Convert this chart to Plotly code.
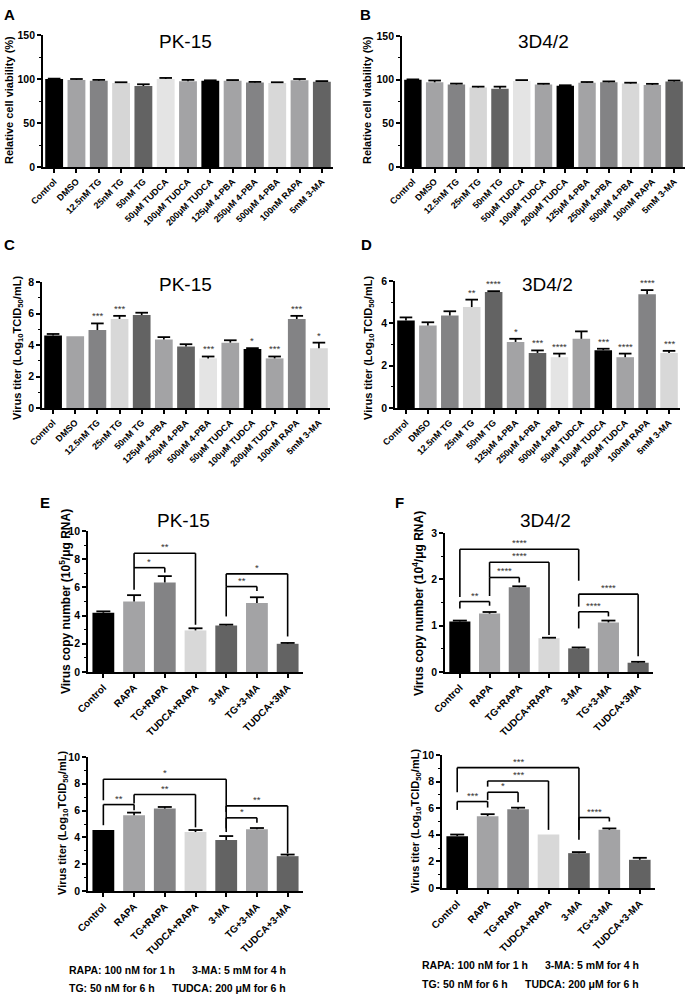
import plotly.graph_objects as go

W, H = 691, 996
FONT = "Liberation Sans, Arial, sans-serif"

# ---------------- data ----------------
cats_AB = ["Control", "DMSO", "12.5nM TG", "25nM TG", "50nM TG", "50μM TUDCA", "100μM TUDCA",
           "200μM TUDCA", "125μM 4-PBA", "250μM 4-PBA", "500μM 4-PBA", "100nM RAPA", "5mM 3-MA"]
viab_pk15 = [100, 99, 98, 95.5, 92, 100, 97.5, 98, 98, 96, 95.5, 98.5, 97]
viab_pk15_err = [0.4, 1, 1, 0.8, 2, 1.2, 1.5, 0.5, 0.8, 0.7, 0.8, 1.5, 0.6]
viab_3d42 = [100, 97, 94.5, 91, 89.5, 98.5, 94.5, 93, 96.5, 97, 95.5, 94, 98]
viab_3d42_err = [0.3, 2, 1, 1, 2.5, 1, 0.8, 0.6, 0.8, 1, 1, 1.2, 1]
colors_AB = ["#000000", "#a3a3a5", "#838385", "#d6d6d6", "#636363", "#e4e4e4", "#a3a3a5",
             "#000000", "#a3a3a5", "#838385", "#d8d8d8", "#a3a3a5", "#636363"]

cats_CD = ["Control", "DMSO", "12.5nM TG", "25nM TG", "50nM TG", "125μM 4-PBA", "250μM 4-PBA",
           "500μM 4-PBA", "50μM TUDCA", "100μM TUDCA", "200μM TUDCA", "100nM RAPA", "5mM 3-MA"]
titer_pk15 = [4.6, 4.55, 4.95, 5.65, 5.9, 4.35, 3.9, 3.15, 4.15, 3.75, 3.15, 5.65, 3.8]
titer_pk15_err = [0.1, None, 0.42, 0.2, 0.15, 0.15, 0.15, 0.12, 0.15, 0.05, 0.12, 0.2, 0.35]
sig_C = ["", "", "***", "***", "", "", "", "***", "", "*", "***", "***", "*"]
titer_3d42 = [4.13, 3.9, 4.37, 4.77, 5.48, 3.12, 2.6, 2.4, 3.27, 2.73, 2.4, 5.37, 2.6]
titer_3d42_err = [0.15, 0.15, 0.2, 0.35, 0.04, 0.15, 0.12, 0.17, 0.35, 0.07, 0.17, 0.2, 0.1]
sig_D = ["", "", "", "**", "****", "*", "***", "****", "", "***", "****", "****", "***"]
colors_CD = ["#000000", "#a3a3a5", "#838385", "#d8d8d8", "#636363", "#a3a3a5", "#636363",
             "#e4e4e4", "#a3a3a5", "#000000", "#a3a3a5", "#838385", "#d8d8d8"]

cats_EF_top = ["Control", "RAPA", "TG+RAPA", "TUDCA+RAPA", "3-MA", "TG+3-MA", "TUDCA+3MA"]
cats_EF_bot = ["Control", "RAPA", "TG+RAPA", "TUDCA+RAPA", "3-MA", "TG+3-MA", "TUDCA+3-MA"]
colors_EF = ["#000000", "#a3a3a5", "#838385", "#d8d8d8", "#636363", "#a3a3a5", "#636363"]

copy_pk15 = [4.2, 5.0, 6.35, 2.95, 3.3, 4.9, 2.0]
copy_pk15_err = [0.1, 0.45, 0.45, 0.15, 0.06, 0.4, 0.06]
copy_3d42 = [1.09, 1.26, 1.83, 0.73, 0.51, 1.07, 0.2]
copy_3d42_err = [0.02, 0.035, 0.02, 0.01, 0.02, 0.04, 0.02]
titerE_pk15 = [4.55, 5.65, 6.15, 4.4, 3.8, 4.6, 2.6]
titerE_pk15_err = [None, 0.2, 0.12, 0.15, 0.3, 0.1, 0.12]
titerF_3d42 = [3.9, 5.4, 5.92, 4.02, 2.62, 4.38, 2.12]
titerF_3d42_err = [0.12, 0.15, 0.12, None, 0.08, 0.1, 0.15]

# significance brackets: (group i, group j, bracket height, leg-i bottom, leg-j bottom, label)
brackets_E_top = [(1, 3, 8.42, 5.83, 3.35, "**"), (1, 2, 7.4, 7.4, 7.05, "*"),
                  (4, 6, 6.96, 6.06, 2.52, "*"), (4, 5, 6.06, 3.94, 5.75, "**")]
brackets_F_top = [(0, 4, 2.65, 1.62, 1.97, "****"), (1, 3, 2.37, 2.04, 0.80, "****"),
                  (1, 2, 2.04, 1.64, 1.93, "****"), (0, 1, 1.52, 1.37, 1.43, "**"),
                  (4, 6, 1.68, 1.41, 0.34, "****"), (4, 5, 1.30, 0.94, 1.2, "****")]
brackets_E_bot = [(0, 4, 8.34, 6.77, 4.67, "*"), (1, 3, 7.2, 6.53, 4.75, "**"),
                  (0, 1, 6.45, 4.91, 6.03, "**"), (4, 6, 6.35, 5.9, 2.8, "**"),
                  (4, 5, 5.46, 4.4, 5.1, "*")]
brackets_F_bot = [(0, 4, 9.05, 7.2, 3.62, "***"), (1, 3, 8.05, 7.62, 4.37, "***"),
                  (1, 2, 7.2, 6.62, 6.45, "*"), (0, 1, 6.5, 5.87, 6.05, "***"),
                  (4, 5, 5.3, 4.37, 5.0, "****")]

# ---------------- layout helpers ----------------
def dx(px):
    return px / W

def dy(py):
    return 1 - py / H

panels = [
    dict(cats=cats_AB, v=viab_pk15, e=viab_pk15_err, c=colors_AB, x=(43, 333), y=(35, 167),
         yr=150, dt=50, mn=25, tf=9, bg=0.2, cw=9),
    dict(cats=cats_AB, v=viab_3d42, e=viab_3d42_err, c=colors_AB, x=(402, 685), y=(36, 167),
         yr=150, dt=50, mn=25, tf=9, bg=0.2, cw=9),
    dict(cats=cats_CD, v=titer_pk15, e=titer_pk15_err, c=colors_CD, x=(42, 330), y=(282, 408),
         yr=8, dt=2, mn=1, tf=9, bg=0.2, cw=9),
    dict(cats=cats_CD, v=titer_3d42, e=titer_3d42_err, c=colors_CD, x=(395, 680), y=(281, 408),
         yr=6, dt=2, mn=1, tf=9, bg=0.2, cw=9),
    dict(cats=cats_EF_top, v=copy_pk15, e=copy_pk15_err, c=colors_EF, x=(88, 303), y=(531, 672),
         yr=10, dt=2, mn=1, tf=10, bg=0.29, cw=10),
    dict(cats=cats_EF_top, v=copy_3d42, e=copy_3d42_err, c=colors_EF, x=(445, 653), y=(533, 672),
         yr=3, dt=1, mn=0.5, tf=10, bg=0.29, cw=10),
    dict(cats=cats_EF_bot, v=titerE_pk15, e=titerE_pk15_err, c=colors_EF, x=(88, 303), y=(757, 891),
         yr=10, dt=2, mn=1, tf=10, bg=0.29, cw=10),
    dict(cats=cats_EF_bot, v=titerF_3d42, e=titerF_3d42_err, c=colors_EF, x=(442, 655), y=(755, 888),
         yr=10, dt=2, mn=1, tf=10, bg=0.29, cw=10),
]

fig = go.Figure()
layout = dict(width=W, height=H, margin=dict(l=0, r=0, t=0, b=0, autoexpand=False),
              paper_bgcolor="white", plot_bgcolor="white", showlegend=False,
              font=dict(family=FONT, color="black"), template="none")
shapes = []
annotations = []

for k, p in enumerate(panels, start=1):
    xa = "x" if k == 1 else f"x{k}"
    ya = "y" if k == 1 else f"y{k}"
    n = len(p["cats"])
    fig.add_trace(go.Bar(
        x=p["cats"], y=p["v"], marker=dict(color=p["c"], line=dict(width=0)),
        xaxis=xa, yaxis=ya, hoverinfo="skip", width=1 - p["bg"]))
    # upper-only error bars (stem + cap), Prism style
    sx, sy, hx, hy = [], [], [], []
    for cat, v, e in zip(p["cats"], p["v"], p["e"]):
        if e:
            sx += [cat, cat, None]
            sy += [v, v + e, None]
            hx.append(cat)
            hy.append(v + e)
    fig.add_trace(go.Scatter(x=sx, y=sy, mode="lines", line=dict(color="black", width=1.7),
                             xaxis=xa, yaxis=ya, hoverinfo="skip", connectgaps=False))
    fig.add_trace(go.Scatter(x=hx, y=hy, mode="markers", xaxis=xa, yaxis=ya, hoverinfo="skip",
                             marker=dict(symbol="line-ew", size=p["cw"],
                                         line=dict(color="black", width=1.8))))
    layout["xaxis" if k == 1 else f"xaxis{k}"] = dict(
        domain=[dx(p["x"][0]), dx(p["x"][1])], anchor=ya, type="category",
        range=[-0.5, n - 0.5], showline=True, linecolor="black", linewidth=1.8,
        ticks="outside", ticklen=4, tickwidth=1.5, tickcolor="black", tickangle=-45,
        tickfont=dict(family=FONT, size=p["tf"], color="black", weight="bold"),
        showgrid=False, zeroline=False, fixedrange=True, automargin=False)
    layout["yaxis" if k == 1 else f"yaxis{k}"] = dict(
        domain=[dy(p["y"][1]), dy(p["y"][0])], anchor=xa, range=[0, p["yr"]],
        showline=True, linecolor="black", linewidth=1.8, ticks="outside", ticklen=4,
        tickwidth=1.5, tickcolor="black", dtick=p["dt"], tick0=0,
        minor=dict(ticks="outside", ticklen=2.5, tickwidth=1.2, tickcolor="black", dtick=p["mn"]),
        tickfont=dict(family=FONT, size=10.5, color="black", weight="bold"),
        showgrid=False, zeroline=False, fixedrange=True, automargin=False)

# significance asterisks above bars in C and D
for k, (p, sig) in ((3, (panels[2], sig_C)), (4, (panels[3], sig_D))):
    for cat, v, e, s in zip(p["cats"], p["v"], p["e"], sig):
        if s:
            annotations.append(dict(x=cat, y=v + (e or 0), xref=f"x{k}", yref=f"y{k}",
                                    text=s, showarrow=False, yanchor="bottom", yshift=0,
                                    font=dict(family=FONT, size=9.5, color="#333333")))

# brackets in E/F
for k, br in ((5, brackets_E_top), (6, brackets_F_top), (7, brackets_E_bot), (8, brackets_F_bot)):
    for i, j, h, li, lj, lab in br:
        ln = dict(color="black", width=1.6)
        shapes.append(dict(type="line", xref=f"x{k}", yref=f"y{k}", x0=i, x1=j, y0=h, y1=h, line=ln))
        shapes.append(dict(type="line", xref=f"x{k}", yref=f"y{k}", x0=i, x1=i, y0=li, y1=h, line=ln))
        shapes.append(dict(type="line", xref=f"x{k}", yref=f"y{k}", x0=j, x1=j, y0=lj, y1=h, line=ln))
        annotations.append(dict(x=(i + j) / 2, y=h, xref=f"x{k}", yref=f"y{k}", text=lab,
                                showarrow=False, yanchor="bottom", yshift=-1,
                                font=dict(family=FONT, size=9.5, color="#333333")))

def paper_text(text, px, py, size, xanchor="center", yanchor="middle", angle=0, bold=True):
    annotations.append(dict(x=dx(px), y=dy(py), xref="paper", yref="paper", text=text,
                            showarrow=False, xanchor=xanchor, yanchor=yanchor, textangle=angle,
                            font=dict(family=FONT, size=size, color="black",
                                      weight="bold" if bold else "normal")))

# panel letters
for lab, px, py in (("A", 2, 4), ("B", 358, 4), ("C", 2, 234), ("D", 359, 234), ("E", 38, 492), ("F", 393, 492)):
    paper_text(lab, px, py, 15, xanchor="left", yanchor="top")

# panel titles
for lab, px, py in (("PK-15", 185, 42), ("3D4/2", 543, 42), ("PK-15", 186, 284),
                    ("3D4/2", 547, 284), ("PK-15", 183, 520), ("3D4/2", 545, 520)):
    paper_text(lab, px, py, 19, bold=False)

# y-axis titles
ytitle_via = "Relative cell viability (%)"
ytitle_titer = "Virus titer (Log<sub>10</sub>TCID<sub>50</sub>/mL)"
paper_text(ytitle_via, 9, 100, 11, angle=-90)
paper_text(ytitle_via, 367, 100, 11, angle=-90)
paper_text(ytitle_titer, 18, 348, 11, angle=-90)
paper_text(ytitle_titer, 369, 348, 11, angle=-90)
paper_text("Virus copy number (10<sup>5</sup>/μg RNA)", 65, 602, 12, angle=-90)
paper_text("Virus copy number (10<sup>4</sup>/μg RNA)", 418, 604, 12, angle=-90)
paper_text(ytitle_titer, 63, 823, 11, angle=-90)
paper_text(ytitle_titer, 416, 821, 11, angle=-90)

# treatment notes
notes_left = ["RAPA: 100 nM for 1 h", "TG: 50 nM for 6 h"]
notes_right = ["3-MA: 5 mM for 4 h", "TUDCA: 200 μM for 6 h"]
for (xl, xr, y1, y2) in ((67, 288, 970, 988), (420, 641, 965, 984)):
    paper_text(notes_left[0], xl, y1, 10.5, xanchor="left")
    paper_text(notes_right[0], xr, y1, 10.5, xanchor="right")
    paper_text(notes_left[1], xl, y2, 10.5, xanchor="left")
    paper_text(notes_right[1], xr, y2, 10.5, xanchor="right")

layout["shapes"] = shapes
layout["annotations"] = annotations
fig.update_layout(**layout)
fig.write_html("out.html", config={"displayModeBar": False},
               post_script="document.body.style.margin='0';document.body.style.overflow='hidden';")
